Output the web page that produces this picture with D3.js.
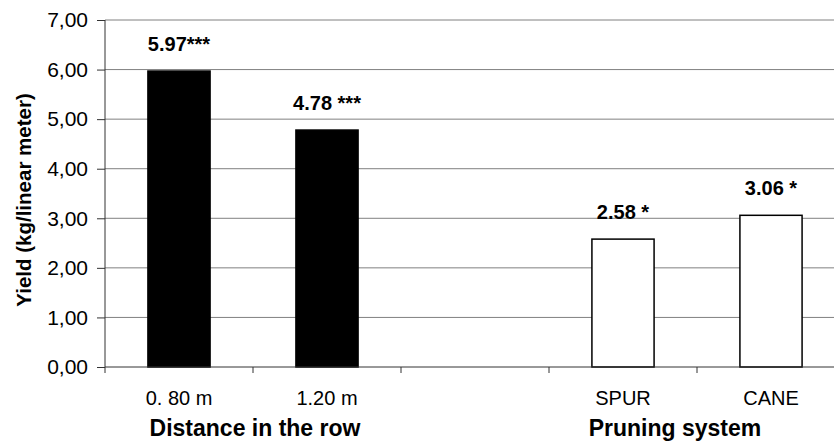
<!DOCTYPE html>
<html>
<head>
<meta charset="utf-8">
<script src="https://cdn.jsdelivr.net/npm/d3@7"></script>
<style>
  body { margin: 0; background: #fff; }
  text { font-family: "Liberation Sans", Arial, sans-serif; }
</style>
</head>
<body>
<div id="chart"></div>
<script>
// Data
const categories = ["0. 80 m", "1.20 m", "", "SPUR", "CANE"];
const yields = [5.97, 4.78, null, 2.58, 3.06];
const valueLabels = ["5.97***", "4.78 ***", "", "2.58 *", "3.06 *"];
const barColors = ["#000", "#000", null, "#fff", "#fff"];
const yTicks = [0, 1, 2, 3, 4, 5, 6, 7];
const groups = [
    {label: "Distance in the row", x: 255},
    {label: "Pruning system", x: 675}
];

const width = 834, height = 443;
const margin = {top: 20, bottom: 76, left: 105, right: -11};

const svg = d3.select("#chart")
    .append("svg")
    .attr("width", width)
    .attr("height", height);

const xScale = d3.scaleBand()
    .domain(d3.range(categories.length))
    .range([margin.left, width - margin.right]);

const yScale = d3.scaleLinear()
    .domain([0, 7])
    .range([height - margin.bottom, margin.top]);

const fmt = d => d3.format(".2f")(d).replace(".", ",");

// Gridlines
svg.append("g")
    .selectAll("line")
    .data(yTicks.slice(1))
    .enter().append("line")
    .attr("x1", margin.left)
    .attr("x2", width - margin.right)
    .attr("y1", d => yScale(d))
    .attr("y2", d => yScale(d))
    .attr("stroke", "#808080")
    .attr("stroke-width", 1);

// Bars
const barWidth = xScale.bandwidth() * 0.42;
const barData = yields.map((v, i) => ({v, i})).filter(d => d.v !== null);
svg.append("g")
    .selectAll("rect")
    .data(barData)
    .enter().append("rect")
    .attr("x", d => xScale(d.i) + (xScale.bandwidth() - barWidth) / 2)
    .attr("y", d => yScale(d.v))
    .attr("width", barWidth)
    .attr("height", d => yScale(0) - yScale(d.v))
    .attr("fill", d => barColors[d.i])
    .attr("stroke", "#000")
    .attr("stroke-width", 1.5);

// Value labels
svg.append("g")
    .selectAll("text")
    .data(barData)
    .enter().append("text")
    .attr("x", d => xScale(d.i) + xScale.bandwidth() / 2)
    .attr("y", d => yScale(d.v) - 20)
    .attr("text-anchor", "middle")
    .style("font-size", "20px")
    .style("font-weight", "bold")
    .text(d => valueLabels[d.i]);

// Y axis
const yAxis = svg.append("g")
    .attr("transform", `translate(${margin.left},0)`)
    .call(d3.axisLeft(yScale).tickValues(yTicks).tickFormat(fmt).tickSize(8).tickPadding(9));
yAxis.selectAll("path, line").attr("stroke", "#333");
yAxis.selectAll("text").style("font-size", "21px").attr("fill", "#000");
yAxis.select(".domain").attr("d", `M0,${yScale(0)}V${yScale(7)}`);

// X axis (ticks between categories)
const xAxis = svg.append("g")
    .attr("transform", `translate(0,${yScale(0)})`);
xAxis.append("line")
    .attr("x1", margin.left)
    .attr("x2", width - margin.right)
    .attr("stroke", "#333");
xAxis.selectAll(".sep")
    .data(d3.range(categories.length))
    .enter().append("line")
    .attr("class", "sep")
    .attr("x1", d => xScale(d))
    .attr("x2", d => xScale(d))
    .attr("y1", 0)
    .attr("y2", 6)
    .attr("stroke", "#333");
xAxis.selectAll(".cat")
    .data(categories)
    .enter().append("text")
    .attr("class", "cat")
    .attr("x", (d, i) => xScale(i) + xScale.bandwidth() / 2)
    .attr("y", 38)
    .attr("text-anchor", "middle")
    .style("font-size", "20px")
    .text(d => d);

// Group labels
svg.selectAll(".group")
    .data(groups)
    .enter().append("text")
    .attr("class", "group")
    .attr("x", d => d.x)
    .attr("y", 436)
    .attr("text-anchor", "middle")
    .style("font-size", "23px")
    .style("font-weight", "bold")
    .text(d => d.label);

// Y axis title
svg.append("text")
    .attr("transform", "translate(31,200) rotate(-90)")
    .attr("text-anchor", "middle")
    .style("font-size", "20.5px")
    .style("font-weight", "bold")
    .text("Yield (kg/linear meter)");
</script>
</body>
</html>
